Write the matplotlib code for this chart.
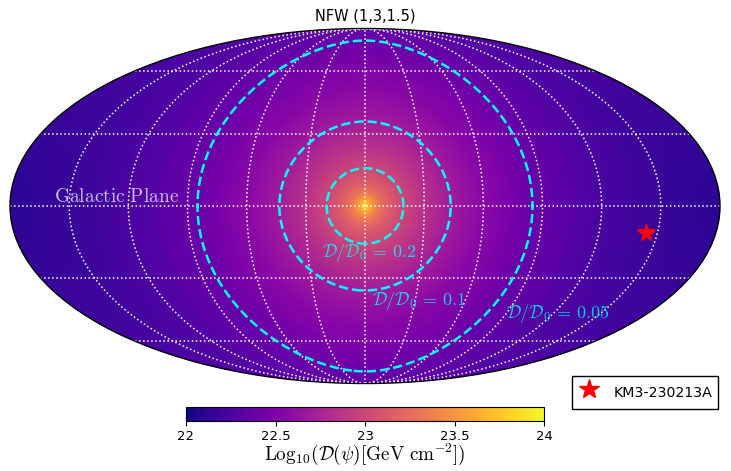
import numpy as np
import matplotlib
matplotlib.use("Agg")
import matplotlib.pyplot as plt

plt.rcParams['mathtext.fontset'] = 'cm'

W, H = 731, 471

# Radial profile (angle from the centre along the plane, deg)
psi_deg = [0.0, 0.5, 1.0, 2.0, 3.5, 5.0, 8.0, 12.0, 19.5, 30.0, 43.4, 60.0, 84.7, 110.0, 140.0, 180.0]
log_d = [24.0, 23.92, 23.84, 23.7, 23.55, 23.43, 23.28, 23.15, 23.0, 22.85, 22.7, 22.56, 22.4, 22.28, 22.18, 22.1]
# How much faster the field falls towards the poles than along the plane
squeeze_psi = [0.0, 15.6, 35.5, 78.0, 180.0]
squeeze_k = [1.25, 1.25, 1.22, 1.086, 1.0]
log_d0 = 23.7
ratios = [0.05, 0.1, 0.2]
ratio_labels = ['0.05', '0.1', '0.2']
star_l, star_b = 143.9, -11.1
star_name = 'KM3-230213A'
cbar_ticks = [22, 22.5, 23, 23.5, 24]
cbar_ticklabels = ['22', '22.5', '23', '23.5', '24']
title = 'NFW (1,3,1.5)'

lon = np.radians(np.linspace(-180, 180, 721))
lat = np.radians(np.linspace(-89.75, 89.75, 360))
L, B = np.meshgrid(lon, lat)
vx = np.cos(B) * np.cos(L)
vy = np.cos(B) * np.sin(L)
vz = np.sin(B)
true_psi = np.degrees(np.arctan2(np.hypot(vy, vz), vx))
alpha = np.arctan2(vz, vy)
k = np.interp(true_psi, squeeze_psi, squeeze_k)
psi = true_psi * np.sqrt(np.cos(alpha) ** 2 + (k * np.sin(alpha)) ** 2)
field = np.interp(psi, psi_deg, log_d)

fig = plt.figure(figsize=(W / 100, H / 100), dpi=100)
ax = fig.add_axes([10 / W, 1 - 384 / H, 710 / W, 356 / H], projection='mollweide')
mesh = ax.pcolormesh(L, B, field, cmap='plasma', vmin=22, vmax=24, shading='auto', rasterized=True)
levels = [log_d0 + np.log10(r) for r in ratios]
cs = ax.contour(L, B, field, levels=levels, colors='cyan', linewidths=1.8,
                linestyles=[(0, (3.7, 1.6))], zorder=3)
ax.set_longitude_grid(30)
ax.set_latitude_grid(30)
ax.set_longitude_grid_ends(90)
ax.grid(True, color='white', linestyle=':', linewidth=1.1)
ax.set_xticklabels([])
ax.set_yticklabels([])
ax.tick_params(length=0)
for s in ax.spines.values():
    s.set_linewidth(1.0)
ax.set_title(title, fontsize=10.5, pad=6)

star, = ax.plot(np.radians(star_l), np.radians(star_b), ls='none', marker='*', ms=13,
                color='red', zorder=5, label=star_name)
ax.legend(handles=[star], loc='lower right', bbox_to_anchor=(718 / W, 1 - 409 / H),
          bbox_transform=fig.transFigure, fancybox=False, edgecolor='k', framealpha=1,
          borderaxespad=0, fontsize=10.2, markerscale=15 / 13, handleheight=2.0,
          handlelength=1.6, handletextpad=0.95)

def px(x, y, s, **kw):
    fig.text(x / W, 1 - y / H, s, ha='center', va='center', **kw)

label_fmt = r'$\mathcal{{D}}/\mathcal{{D}}_0\,=\,{}$'
px(369, 253, label_fmt.format(ratio_labels[2]), color='cyan', alpha=0.8, fontsize=13)
px(419, 301, label_fmt.format(ratio_labels[1]), color='cyan', alpha=0.8, fontsize=13)
px(558, 314, label_fmt.format(ratio_labels[0]), color='cyan', alpha=0.8, fontsize=13)
px(117, 196, r'$\mathrm{Galactic\ Plane}$', color='white', alpha=0.75, fontsize=14)

cax = fig.add_axes([186 / W, 1 - 421 / H, 358 / W, 14 / H])
cb = fig.colorbar(mesh, cax=cax, orientation='horizontal')
cb.set_ticks(cbar_ticks)
cb.set_ticklabels(cbar_ticklabels)
cb.ax.tick_params(labelsize=9.5, pad=3)
cb.set_label(r'$\mathrm{Log}_{10}(\mathcal{D}(\psi)[\mathrm{GeV\ cm}^{-2}])$', fontsize=13.8, labelpad=-1)

fig.savefig('out.png', dpi=100)
